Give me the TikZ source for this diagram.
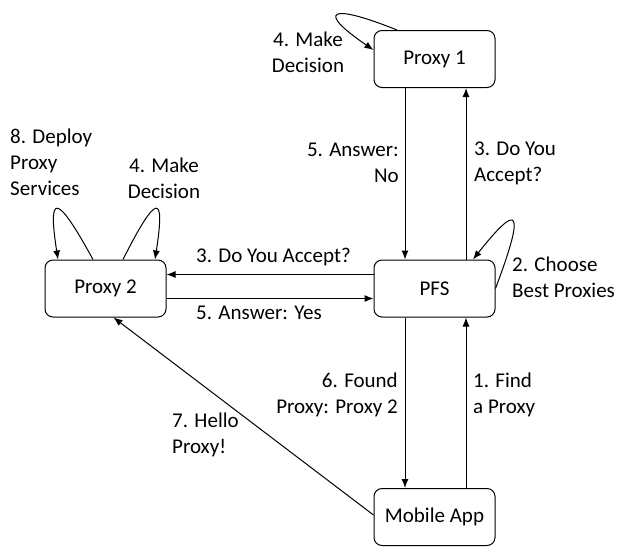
\documentclass[tikz,border=0pt]{standalone}
\usepackage{fontspec}
\setmainfont{Carlito}
\usetikzlibrary{arrows.meta}

\begin{document}
\begin{tikzpicture}[x=1pt, y=-1pt, font=\fontsize{21}{26}\selectfont,
    box/.style={draw, rounded corners=8pt, minimum width=121pt, minimum height=57pt, line width=1pt},
    arr/.style={-{Latex[length=9pt, width=7pt]}, line width=1pt},
    lbl/.style={inner sep=0pt}]
    \useasboundingbox (0,0) rectangle (618,546);

    % Draw boxes
    \node[box] (proxyone) at (434.5, 59) {Proxy 1};
    \node[box] (pfs) at (434.5, 288.5) {PFS};
    \node[box] (proxytwo) at (105.5, 288.5) {Proxy 2};
    \node[box] (mobile) at (434.5, 517) {Mobile App};

    % Vertical arrows
    \draw[arr] ([xshift=-29.5pt]proxyone.south) -- ([xshift=-29.5pt]pfs.north);
    \draw[arr] ([xshift=31.5pt]pfs.north) -- ([xshift=31.5pt]proxyone.south);
    \draw[arr] ([xshift=-29.5pt]pfs.south) -- ([xshift=-29.5pt]mobile.north);
    \draw[arr] ([xshift=31.5pt]mobile.north) -- ([xshift=31.5pt]pfs.south);

    % Horizontal arrows
    \draw[arr] ([yshift=14pt]pfs.west) -- ([yshift=14pt]proxytwo.east);
    \draw[arr] ([yshift=-10pt]proxytwo.east) -- ([yshift=-10pt]pfs.west);

    % Hello arrow
    \draw[arr] ([yshift=2pt]mobile.west) -- ([xshift=8pt]proxytwo.south);

    % Self loops
    \draw[arr] ([xshift=-37.5pt]proxyone.north) .. controls (330,3) and (315,10) .. ([yshift=9pt]proxyone.west);
    \draw[arr] (pfs.east) .. controls (525,210) and (520,200) .. ([xshift=38.5pt]pfs.north);
    \draw[arr] ([xshift=-12.5pt]proxytwo.north) .. controls (55,190) and (48,195) .. ([xshift=-47.5pt]proxytwo.north);
    \draw[arr] ([xshift=17.5pt]proxytwo.north) .. controls (158,190) and (165,195) .. ([xshift=49.5pt]proxytwo.north);

    % Labels
    \node[lbl, align=center] (lmakeone) at (308, 52) {4. Make\\Decision};
    \node[lbl, align=right, anchor=east] (lanswerno) at (399, 163) {5. Answer:\\No};
    \node[lbl, align=left, anchor=west] (lacceptone) at (474, 163) {3. Do You\\Accept?};
    \node[lbl, align=left, anchor=west] (lchoose) at (512, 277) {2. Choose\\Best Proxies};
    \node[lbl, anchor=west] (lacceptwo) at (196, 257) {3. Do You Accept?};
    \node[lbl, anchor=west] (lansweryes) at (196, 313) {5. Answer: Yes};
    \node[lbl, align=right, anchor=east] (lfound) at (398, 395) {6. Found\\Proxy: Proxy 2};
    \node[lbl, align=left, anchor=west] (lfind) at (473, 395) {1. Find\\a Proxy};
    \node[lbl, align=left, anchor=west] (lhello) at (172, 435) {7. Hello\\Proxy!};
    \node[lbl, align=left, anchor=west] (ldeploy) at (10, 162) {8. Deploy\\Proxy\\Services};
    \node[lbl, align=center] (lmaketwo) at (164, 178) {4. Make\\Decision};
\end{tikzpicture}
\end{document}
